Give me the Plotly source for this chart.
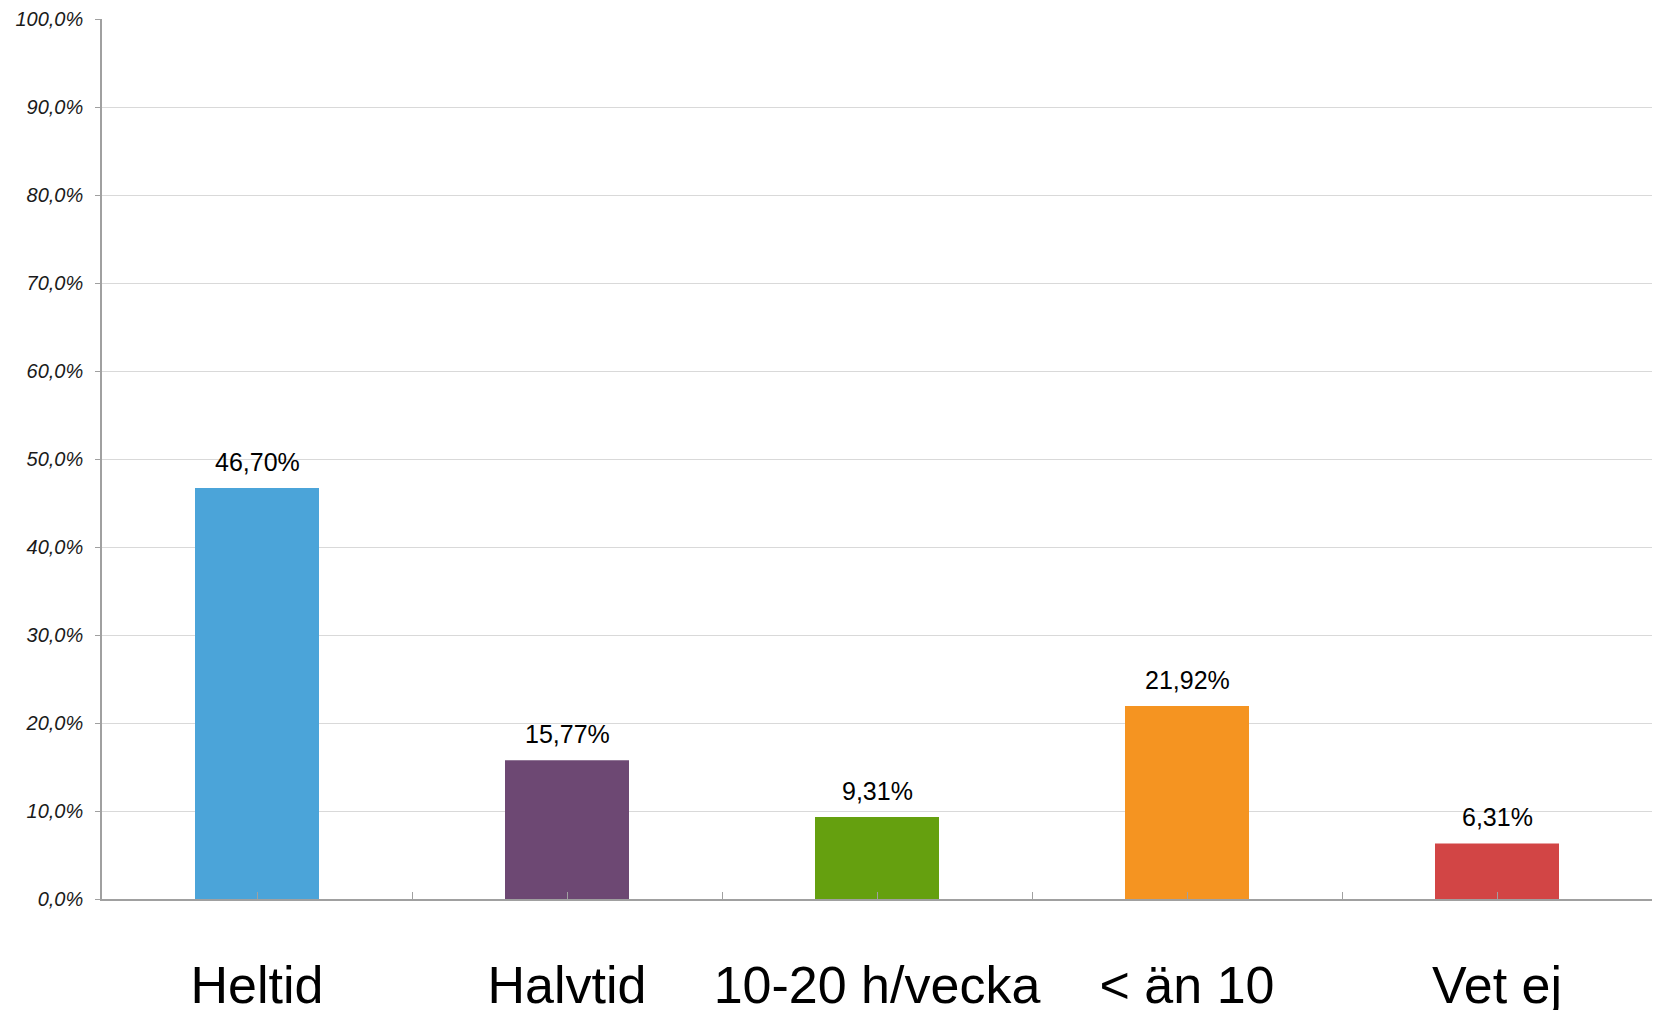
import plotly.graph_objects as go

categories = ["Heltid", "Halvtid", "10-20 h/vecka", "< än 10", "Vet ej"]
values = [0.4670, 0.1577, 0.0931, 0.2192, 0.0631]
colors = ["#4BA4D9", "#6D4873", "#65A00F", "#F59421", "#D24545"]
y_ticks = [i / 10 for i in range(11)]

x_pos = list(range(len(categories)))
boundaries = [i - 0.5 for i in range(len(categories) + 1)]

fig = go.Figure()
fig.add_trace(go.Bar(
    x=x_pos, y=values, marker=dict(color=colors, line=dict(width=0)),
    width=0.4, hoverinfo="skip", showlegend=False,
))

for xv, v in zip(x_pos, values):
    fig.add_annotation(
        x=xv, y=v, text=f"{v*100:.2f}%".replace(".", ","),
        showarrow=False, yanchor="bottom", yshift=10,
        font=dict(family="Liberation Sans, Arial, sans-serif", size=25, color="#000000"),
    )

fig.update_layout(
    width=1655, height=1010,
    margin=dict(l=102, r=3, t=19, b=111),
    paper_bgcolor="white", plot_bgcolor="white",
    separators=", ",
    font=dict(family="Liberation Sans, Arial, sans-serif", color="#000000"),
)

fig.update_xaxes(
    range=[-0.5, 4.5],
    tickmode="array", tickvals=x_pos, ticktext=categories,
    tickfont=dict(size=52, color="#000000"),
    ticks="inside", ticklen=7, tickcolor="#A0A0A0", tickwidth=1,
    minor=dict(tickmode="array", tickvals=boundaries, ticks="inside", ticklen=7,
               tickcolor="#A0A0A0", tickwidth=1, showgrid=False),
    showline=True, linecolor="#A0A0A0", linewidth=1.5,
    showgrid=False, zeroline=False,
    ticklabelstandoff=40, automargin=False,
)

fig.update_yaxes(
    range=[0, 1.0],
    tickmode="array", tickvals=y_ticks, tickformat=".1%",
    tickfont=dict(size=20, color="#1A1A1A", style="italic"),
    ticks="outside", ticklen=5, tickcolor="#A0A0A0",
    showline=True, linecolor="#A0A0A0", linewidth=1.5,
    showgrid=True, gridcolor="#D9D9D9", gridwidth=1,
    zeroline=False,
    ticklabelstandoff=8, automargin=False,
)

fig.write_html(
    "out.html",
    config={"displayModeBar": False},
    post_script="document.body.style.margin='0';document.body.style.overflow='hidden';",
)
